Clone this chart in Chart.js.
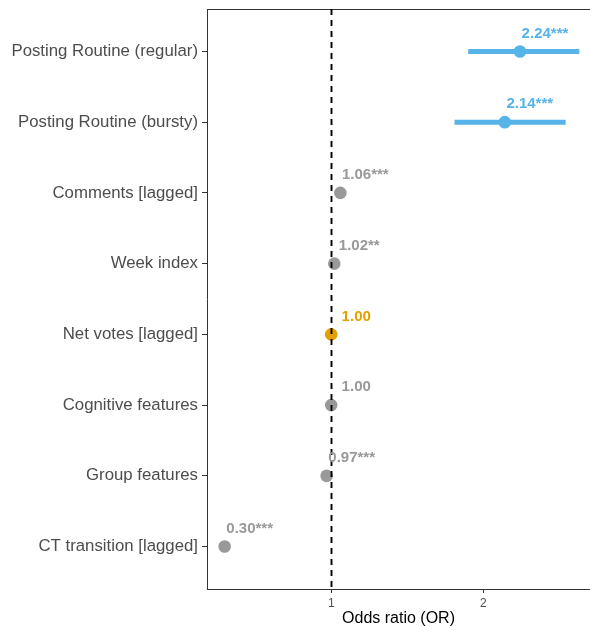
<!DOCTYPE html>
<html>
<head>
<meta charset="utf-8">
<script src="https://cdn.jsdelivr.net/npm/chart.js@4"></script>
<style>
html,body{margin:0;padding:0;background:#fff;}
#wrap{width:590px;height:627px;}
</style>
</head>
<body>
<div id="wrap"><canvas id="c" width="590" height="627"></canvas></div>
<script>
const categories = ["Posting Routine (regular)", "Posting Routine (bursty)", "Comments [lagged]", "Week index", "Net votes [lagged]", "Cognitive features", "Group features", "CT transition [lagged]"];
const oddsRatios = [2.24, 2.14, 1.06, 1.02, 1.00, 1.00, 0.97, 0.30];
const ciLow = [1.90, 1.81, null, null, null, null, null, null];
const ciHigh = [2.63, 2.54, null, null, null, null, null, null];
const valueLabels = ["2.24***", "2.14***", "1.06***", "1.02**", "1.00", "1.00", "0.97***", "0.30***"];
const groups = ["routine", "routine", "other", "other", "votes", "other", "other", "other"];
const xTicks = [1, 2];

const palette = {routine: "#56B4E9", votes: "#E69F00", other: "#999999"};
const FONT = "'Liberation Sans', Arial, sans-serif";

const pointData = oddsRatios.map((v, i) => ({x: v, y: i + 1}));
const ciDatasets = [];
ciLow.forEach((lo, i) => {
  if (lo == null) return;
  ciDatasets.push({
    type: 'line',
    data: [{x: lo, y: i + 1}, {x: ciHigh[i], y: i + 1}],
    borderColor: palette[groups[i]],
    borderWidth: 5,
    borderCapStyle: 'butt',
    pointRadius: 0,
    order: 2
  });
});

function zeroPad(s) { s.paddingLeft = 0; s.paddingRight = 0; s.paddingTop = 0; s.paddingBottom = 0; }

const overlay = {
  id: 'overlay',
  afterDatasetsDraw(chart) {
    const {ctx, chartArea, scales: {x, y}} = chart;
    ctx.save();
    ctx.strokeStyle = '#333333';
    ctx.lineWidth = 1;
    ctx.beginPath();
    ctx.moveTo(chartArea.left, chartArea.top + 0.5);
    ctx.lineTo(chartArea.right, chartArea.top + 0.5);
    ctx.stroke();
    const xr = Math.round(x.getPixelForValue(1)) + 0.5;
    ctx.setLineDash([6, 5]);
    ctx.strokeStyle = '#000000';
    ctx.lineWidth = 1.9;
    ctx.beginPath();
    ctx.moveTo(xr, chartArea.top);
    ctx.lineTo(xr, chartArea.bottom);
    ctx.stroke();
    ctx.setLineDash([]);
    ctx.font = "bold 15px " + FONT;
    ctx.textAlign = 'center';
    ctx.textBaseline = 'middle';
    oddsRatios.forEach((v, i) => {
      const px = x.getPixelForValue(v);
      const py = y.getPixelForValue(i + 1);
      ctx.fillStyle = palette[groups[i]];
      ctx.fillText(valueLabels[i], px + 25, py - 18);
    });
    ctx.restore();
  }
};

new Chart(document.getElementById('c'), {
  type: 'scatter',
  data: {
    datasets: [
      {
        type: 'scatter',
        data: pointData,
        backgroundColor: groups.map(g => palette[g]),
        borderColor: groups.map(g => palette[g]),
        borderWidth: 0,
        pointRadius: 6.3,
        pointHoverRadius: 6.3,
        order: 1
      },
      ...ciDatasets
    ]
  },
  options: {
    responsive: false,
    animation: false,
    events: [],
    layout: {autoPadding: false, padding: {top: 9, right: 0, bottom: 0, left: 0}},
    plugins: {legend: {display: false}, tooltip: {enabled: false}},
    scales: {
      x: {
        type: 'linear',
        min: 0.184,
        max: 2.70,
        afterBuildTicks: s => { s.ticks = xTicks.map(v => ({value: v})); },
        afterFit: s => { s.height = 38; zeroPad(s); },
        grid: {display: true, drawOnChartArea: false, drawTicks: true, tickLength: 4, color: '#333333', lineWidth: 1},
        border: {display: true, color: '#333333', width: 1},
        ticks: {color: '#4d4d4d', font: {family: FONT, size: 12}, padding: 3, maxRotation: 0},
        title: {display: true, text: 'Odds ratio (OR)', color: '#000000', font: {family: FONT, size: 16}, padding: {top: 0, bottom: -1}}
      },
      y: {
        type: 'linear',
        min: 0.4,
        max: 8.6,
        reverse: true,
        afterBuildTicks: s => { s.ticks = categories.map((c, i) => ({value: i + 1})); },
        afterFit: s => { s.width = 207; zeroPad(s); },
        grid: {display: true, drawOnChartArea: false, drawTicks: true, tickLength: 5, color: '#333333', lineWidth: 1},
        border: {display: true, color: '#333333', width: 1},
        ticks: {color: '#4d4d4d', font: {family: FONT, size: 16.8}, padding: 4, callback: v => categories[v - 1]}
      }
    }
  },
  plugins: [overlay]
});
</script>
</body>
</html>
